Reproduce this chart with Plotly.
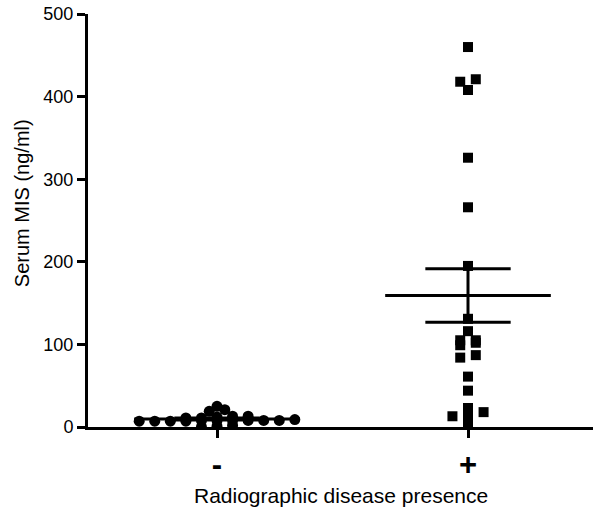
import numpy as np
import plotly.graph_objects as go

# serum MIS (ng/ml)
groups = ["<b>-</b>", "<b>+</b>"]
negative = [8, 8, 7, 8, 7, 9, 8, 7, 8, 8, 7,
            12, 11, 13, 11, 13,
            19, 25, 21,
            1, 0, 2]
positive = [460, 418, 421, 408, 326, 266, 195, 131, 116, 102, 105,
            105, 99, 87, 84, 61, 44, 23, 16, 13, 18, 5]


def swarm(values, center, step=0.062, row=5):
    # spread points of similar value side by side, Prism style
    values = np.asarray(values, dtype=float)
    order = np.argsort(values, kind="stable")
    xs = np.zeros(len(values))
    rows, cur = [], [order[0]]
    for idx in order[1:]:
        if values[idx] - values[cur[0]] < row:
            cur.append(idx)
        else:
            rows.append(cur)
            cur = [idx]
    rows.append(cur)
    for r in rows:
        n = len(r)
        for i, idx in enumerate(r):
            xs[idx] = center + (i - (n - 1) / 2) * step
    return xs


def mean_sem_lines(values, center, half_mean=0.33, half_cap=0.17):
    v = np.asarray(values, dtype=float)
    m = v.mean()
    sem = v.std(ddof=1) / np.sqrt(len(v))
    x = [center - half_mean, center + half_mean, None,
         center - half_cap, center + half_cap, None,
         center - half_cap, center + half_cap, None,
         center, center]
    y = [m, m, None, m + sem, m + sem, None, m - sem, m - sem, None,
         m - sem, m + sem]
    return x, y


fig = go.Figure()

fig.add_trace(go.Scatter(
    x=swarm(negative, 0, row=4), y=negative, mode="markers",
    marker=dict(symbol="circle", size=11, color="black"),
    showlegend=False,
))
fig.add_trace(go.Scatter(
    x=swarm(positive, 1, row=6), y=positive, mode="markers",
    marker=dict(symbol="square", size=10, color="black"),
    showlegend=False,
))

for i, vals in enumerate([negative, positive]):
    lx, ly = mean_sem_lines(vals, i)
    fig.add_trace(go.Scatter(
        x=lx, y=ly, mode="lines",
        line=dict(color="black", width=3),
        showlegend=False, hoverinfo="skip",
    ))

fig.update_layout(
    width=602, height=511,
    margin=dict(l=88, r=9, t=14, b=84),
    plot_bgcolor="white", paper_bgcolor="white",
    font=dict(family="Liberation Sans, Arial, sans-serif", color="black"),
    annotations=[
        dict(text="Radiographic disease presence", xref="paper", yref="paper",
             x=0.5, y=0, yanchor="middle", yshift=-68, showarrow=False,
             font=dict(size=21)),
        dict(text="Serum MIS (ng/ml)", xref="paper", yref="paper",
             x=0, y=0.542, xanchor="center", xshift=-66, textangle=-90,
             showarrow=False, font=dict(size=20)),
    ],
)
fig.update_xaxes(
    range=[-0.514, 1.498], automargin=False,
    tickvals=[0, 1], ticktext=groups,
    tickfont=dict(size=31),
    ticks="outside", ticklen=8, tickwidth=3, tickcolor="black",
    showline=True, linewidth=3, linecolor="black",
    showgrid=False, zeroline=False,
)
fig.update_yaxes(
    range=[0, 500], automargin=False,
    tickvals=[0, 100, 200, 300, 400, 500],
    tickfont=dict(size=18),
    ticks="outside", ticklen=8, tickwidth=3, tickcolor="black",
    showline=True, linewidth=3, linecolor="black",
    showgrid=False, zeroline=False,
)

# page body has an 8px default margin; drop it so the figure fills the window
fig.write_html("out.html", config={"displayModeBar": False},
               post_script="document.body.style.margin='0';")
